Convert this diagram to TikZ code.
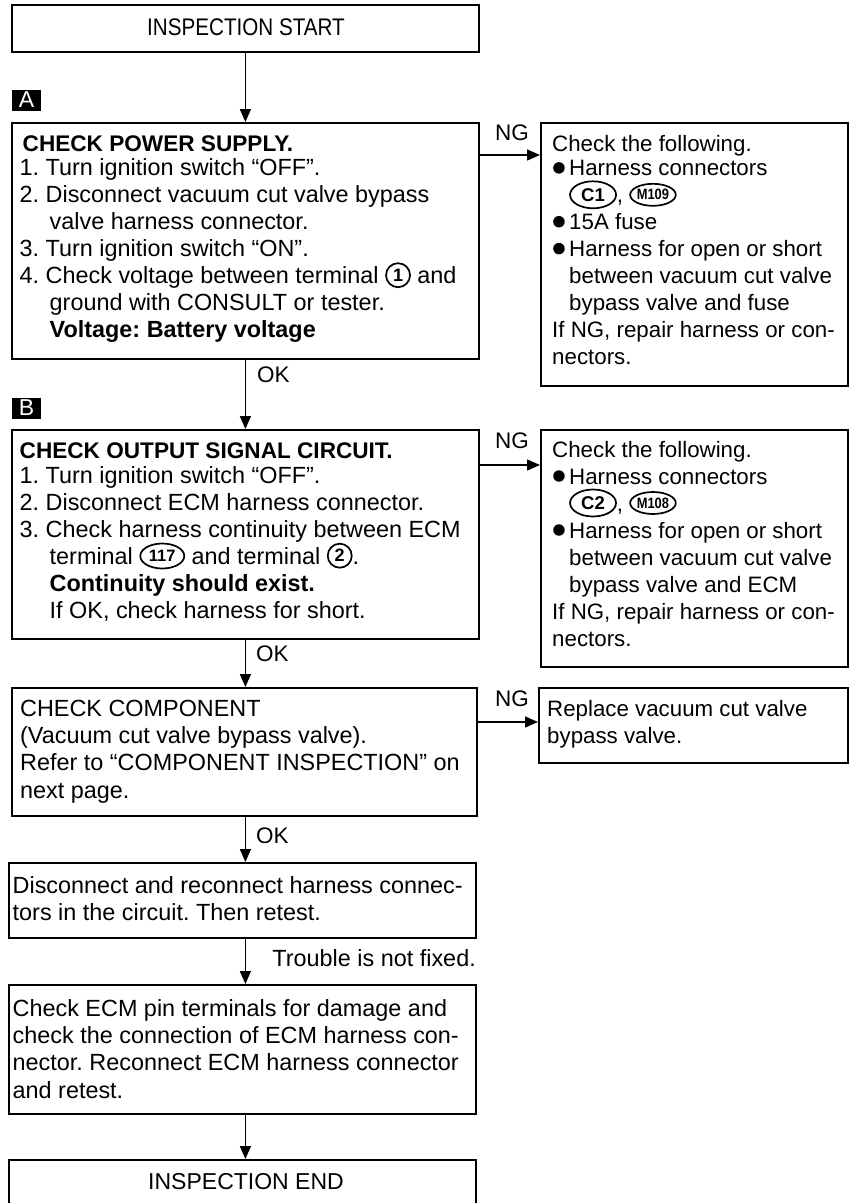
\documentclass[tikz,border=0pt]{standalone}
\usepackage{fontspec}
\setmainfont{Liberation Sans}
\newfontfamily\condfont[FakeStretch=0.86]{Liberation Sans}
\usetikzlibrary{arrows.meta,shapes.geometric}

\newcommand{\bodyfont}{\fontsize{23.4}{27.4}\selectfont}
\newcommand{\bfs}[1]{\fontsize{23.4}{#1}\selectfont\frenchspacing}
\newcommand{\rfs}[1]{\fontsize{22.3}{#1}\selectfont\frenchspacing}
\newcommand{\headfont}{\fontsize{22.6}{27}\selectfont\bfseries}
\newcommand{\cnum}[1]{\tikz[baseline={([yshift=-8.3pt]cn.center)}]\node[draw,circle,line width=1.7pt,inner sep=0pt,minimum size=24pt,font=\fontsize{18}{18}\selectfont\bfseries](cn){#1};}
\newcommand{\cconn}[4]{\tikz[baseline={([yshift=-8pt]ce.center)}]\node[draw,ellipse,line width=1.7pt,inner sep=0pt,minimum width=#1,minimum height=#2,font=#3](ce){#4};}
\newcommand{\bul}{\makebox[17pt][l]{\hspace*{1pt}\tikz[baseline={([yshift=-8pt]bd.center)}]\node[fill=black,circle,inner sep=0pt,minimum size=11.5pt](bd){};}}
\newcommand{\ind}{\hspace*{30pt}}
\newcommand{\rind}{\hspace*{17pt}}

\tikzset{
  box/.style={draw, line width=1.8pt, inner sep=0pt, anchor=north west},
  txt/.style={anchor=base west, inner sep=0pt, font=\bodyfont},
  arr/.style={line width=1.5pt, -{Triangle[length=13pt,width=11pt]}},
  lbl/.style={fill=black, text=white, font=\fontsize{23}{23}\selectfont,
              minimum width=29pt, minimum height=21pt, inner sep=0pt},
  tag/.style={anchor=base west, inner sep=0pt, font=\fontsize{22.5}{22.5}\selectfont}
}

\begin{document}
\begin{tikzpicture}[x=1pt,y=-1pt]
\lineskiplimit=-100pt
\useasboundingbox (0,0) rectangle (849,1203);
\fill[white] (0,0) rectangle (849,1203);

% ---------- boxes ----------
\node[box, minimum width=467pt, minimum height=47pt]  (start) at (11,4) {};
\node[box, minimum width=467pt, minimum height=236pt] (A)     at (11,122) {};
\node[box, minimum width=307pt, minimum height=263pt] (R1)    at (540,122) {};
\node[box, minimum width=467pt, minimum height=209pt] (B)     at (11,429) {};
\node[box, minimum width=307pt, minimum height=237pt] (R2)    at (540,429) {};
\node[box, minimum width=465pt, minimum height=128pt] (C)     at (11,687) {};
\node[box, minimum width=309pt, minimum height=75pt]  (R3)    at (538,687) {};
\node[box, minimum width=467pt, minimum height=75pt]  (D)     at (8,862) {};
\node[box, minimum width=467pt, minimum height=129pt] (E)     at (8,984) {};
\node[box, minimum width=467pt, minimum height=70pt]  (fin)   at (8,1159) {};

% ---------- labels A / B ----------
\node[lbl] (la) at (26.5,100) {A};
\node[lbl] (lb) at (26.5,408) {B};

% ---------- texts ----------
\node[anchor=base, inner sep=0pt, font=\condfont\fontsize{24}{24}\selectfont] (tstart) at (246,35) {INSPECTION START};
\node[anchor=base, inner sep=0pt, font=\fontsize{23}{23}\selectfont] (tend) at (246,1189) {INSPECTION END};

\node[txt] (tA) at (19.5,151) {\parbox[t]{458pt}{\raggedright\bfs{26.9}
{\headfont\hspace*{3pt}CHECK POWER SUPPLY.}\\[-2pt]
1. Turn ignition switch “OFF”.\\
2. Disconnect vacuum cut valve bypass\\
\ind valve harness connector.\\
3. Turn ignition switch “ON”.\\
4. Check voltage between terminal \cnum{1} and\\
\ind ground with CONSULT or tester.\\
\ind {\bfseries Voltage: Battery voltage}}};

\node[txt] (tR1) at (552,151) {\parbox[t]{295pt}{\raggedright\rfs{26.9}
Check the following.\\[-2pt]
\bul Harness connectors\\
\rind\cconn{46pt}{27pt}{\fontsize{18.5}{18.5}\selectfont\bfseries}{C1}, \cconn{45pt}{22pt}{\condfont\fontsize{15}{15}\selectfont\bfseries}{M109}\\
\bul 15A fuse\\
\bul Harness for open or short\\
\rind between vacuum cut valve\\
\rind bypass valve and fuse\\
If NG, repair harness or con-\\
nectors.}};

\node[txt] (tB) at (19.5,458) {\parbox[t]{458pt}{\raggedright\bfs{27}
{\headfont CHECK OUTPUT SIGNAL CIRCUIT.}\\[-2pt]
1. Turn ignition switch “OFF”.\\
2. Disconnect ECM harness connector.\\
3. Check harness continuity between ECM\\
\ind terminal \cconn{44pt}{25pt}{\fontsize{16.5}{16.5}\selectfont\bfseries}{117} and terminal \cnum{2}.\\
\ind {\bfseries Continuity should exist.}\\
\ind If OK, check harness for short.}};

\node[txt] (tR2) at (552,457) {\parbox[t]{295pt}{\raggedright\rfs{27}
Check the following.\\
\bul Harness connectors\\
\rind\cconn{46pt}{27pt}{\fontsize{18.5}{18.5}\selectfont\bfseries}{C2}, \cconn{45pt}{22pt}{\condfont\fontsize{15}{15}\selectfont\bfseries}{M108}\\
\bul Harness for open or short\\
\rind between vacuum cut valve\\
\rind bypass valve and ECM\\
If NG, repair harness or con-\\
nectors.}};

\node[txt] (tC) at (20,716) {\parbox[t]{455pt}{\raggedright\bfs{27.4}
CHECK COMPONENT\\
(Vacuum cut valve bypass valve).\\
Refer to “COMPONENT INSPECTION” on\\
next page.}};

\node[txt] (tR3) at (547,716) {\parbox[t]{295pt}{\raggedright\rfs{27.4}
Replace vacuum cut valve\\
bypass valve.}};

\node[txt] (tD) at (12.5,893) {\parbox[t]{460pt}{\raggedright\bfs{27.4}
Disconnect and reconnect harness connec-\\
tors in the circuit. Then retest.}};

\node[txt] (tE) at (12.5,1016) {\parbox[t]{460pt}{\raggedright\bfs{27.4}
Check ECM pin terminals for damage and\\
check the connection of ECM harness con-\\
nector. Reconnect ECM harness connector\\
and retest.}};

% ---------- connector labels ----------
\node[tag] (ok1) at (257,382) {OK};
\node[tag] (ok2) at (256,661) {OK};
\node[tag] (ok3) at (256,843) {OK};
\node[tag] (ng1) at (495,140) {NG};
\node[tag] (ng2) at (495,448) {NG};
\node[tag] (ng3) at (495,706) {NG};
\node[anchor=base east, inner sep=0pt, font=\bodyfont] (trb) at (476,966) {Trouble is not fixed.};

% ---------- connectors ----------
\draw[arr] (start.south) -- (A.north);
\draw[arr] (A.south) -- (B.north);
\draw[arr] (B.south) -- (B.south |- C.north);
\draw[arr] (B.south |- C.south) -- (B.south |- D.north);
\draw[arr] (B.south |- D.south) -- (B.south |- E.north);
\draw[arr] (B.south |- E.south) -- (B.south |- fin.north);

\coordinate (nga) at ([yshift=-33pt]A.north east);
\coordinate (ngb) at ([yshift=-36pt]B.north east);
\coordinate (ngc) at ([yshift=-35pt]C.north east);
\draw[arr] (nga) -- (nga -| R1.west);
\draw[arr] (ngb) -- (ngb -| R2.west);
\draw[arr] (ngc) -- (ngc -| R3.west);
\end{tikzpicture}
\end{document}
